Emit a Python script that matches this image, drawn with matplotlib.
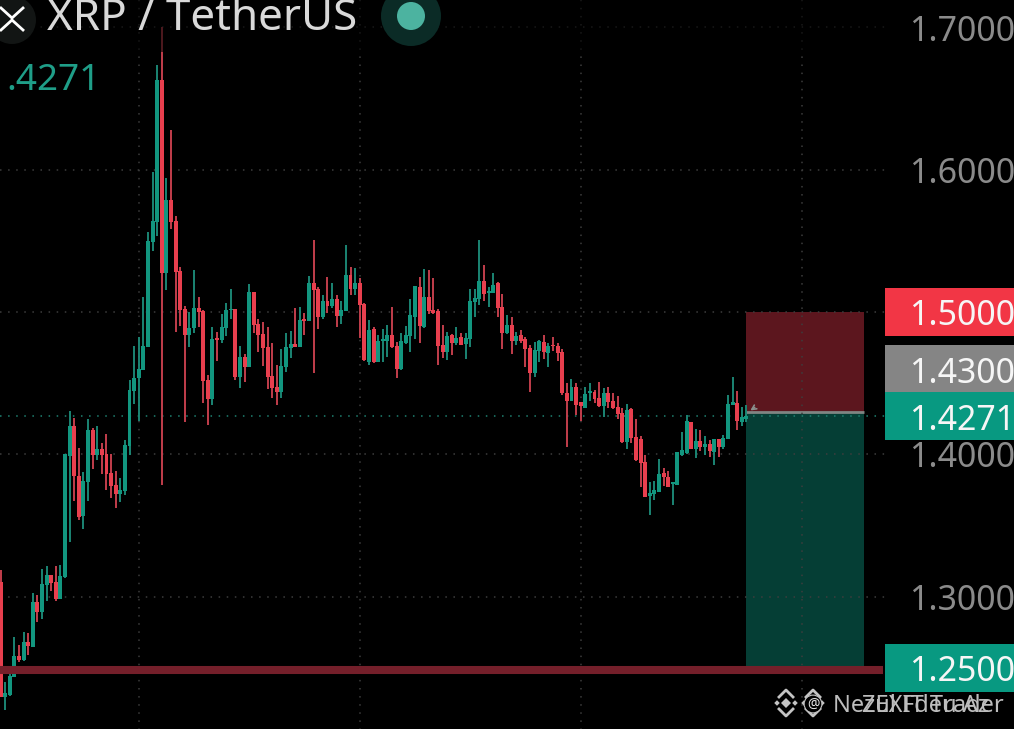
import matplotlib
matplotlib.use("Agg")
import matplotlib.pyplot as plt
import numpy as np
from matplotlib.patches import Circle, Rectangle

plt.rcParams["font.family"] = ["Noto Sans", "DejaVu Sans"]

highs = [
    1.3188, 1.2401, 1.2471, 1.2717, 1.2661, 1.2752, 1.2745, 1.3026, 1.3012, 1.3195,
    1.3216, 1.3153, 1.3216, 1.3223, 1.4003, 1.4305, 1.4256, 1.4045, 1.3876, 1.4249,
    1.4185, 1.4199, 1.4080, 1.4143, 1.4003, 1.3883, 1.3834, 1.4101, 1.4523, 1.4761,
    1.4825, 1.5106, 1.5563, 1.5984, 1.6736, 1.7003, 1.5942, 1.6279, 1.5675, 1.5317,
    1.5043, 1.5001, 1.5296, 1.5106, 1.5015, 1.4558, 1.4895, 1.4860, 1.4987, 1.5064,
    1.5162, 1.5022, 1.4761, 1.4705, 1.5197, 1.5141, 1.4951, 1.4930, 1.4895, 1.4783,
    1.4628, 1.4740, 1.4853, 1.4867, 1.5029, 1.5036, 1.4994, 1.5254, 1.5507, 1.5176,
    1.5120, 1.5247, 1.5204, 1.5120, 1.5078, 1.5471, 1.5317, 1.5310, 1.5240, 1.5064,
    1.4944, 1.4895, 1.4839, 1.4881, 1.4909, 1.5036, 1.4790, 1.4853, 1.4902, 1.5092,
    1.5183, 1.5247, 1.5303, 1.5296, 1.5240, 1.5022, 1.4909, 1.4860, 1.4846, 1.4895,
    1.4853, 1.4853, 1.5162, 1.5162, 1.5507, 1.5331, 1.5176, 1.5275, 1.5211, 1.5127,
    1.4979, 1.4965, 1.4860, 1.4874, 1.4825, 1.4769, 1.4790, 1.4804, 1.4839, 1.4783,
    1.4825, 1.4783, 1.4740, 1.4502, 1.4530, 1.4502, 1.4368, 1.4473, 1.4502, 1.4453,
    1.4509, 1.4466, 1.4473, 1.4431, 1.4410, 1.4326, 1.4354, 1.4326, 1.4249, 1.4129,
    1.3996, 1.3806, 1.3813, 1.3968, 1.3904, 1.3883, 1.3806, 1.4017, 1.4157, 1.4277,
    1.4228, 1.4178, 1.4171, 1.4129, 1.4101, 1.4108, 1.4108, 1.4136, 1.4417, 1.4544,
    1.4446, 1.4333, 1.4347,
]
lows = [
    1.2295, 1.2204, 1.2302, 1.2436, 1.2541, 1.2548, 1.2591, 1.2647, 1.2822, 1.2844,
    1.2970, 1.3040, 1.2970, 1.2984, 1.3132, 1.3384, 1.3673, 1.3540, 1.3476, 1.3673,
    1.3897, 1.3961, 1.3862, 1.3750, 1.3694, 1.3624, 1.3666, 1.3715, 1.3996, 1.4354,
    1.4235, 1.4593, 1.4754, 1.5430, 1.5535, 1.3785, 1.5155, 1.5584, 1.4860, 1.4902,
    1.4227, 1.4754, 1.4853, 1.4895, 1.4361, 1.4206, 1.4347, 1.4656, 1.4783, 1.4832,
    1.4951, 1.4523, 1.4466, 1.4509, 1.4614, 1.4853, 1.4719, 1.4621, 1.4460, 1.4396,
    1.4347, 1.4396, 1.4579, 1.4677, 1.4754, 1.4754, 1.4839, 1.4937, 1.4572, 1.4881,
    1.4951, 1.4994, 1.5029, 1.4895, 1.4916, 1.5008, 1.5120, 1.5120, 1.4818, 1.4656,
    1.4628, 1.4642, 1.4649, 1.4649, 1.4684, 1.4747, 1.4537, 1.4593, 1.4776, 1.4719,
    1.4811, 1.4783, 1.4888, 1.4987, 1.4987, 1.4628, 1.4677, 1.4663, 1.4698, 1.4769,
    1.4769, 1.4670, 1.4754, 1.4965, 1.5050, 1.5078, 1.5036, 1.5134, 1.4965, 1.4740,
    1.4846, 1.4705, 1.4769, 1.4783, 1.4614, 1.4439, 1.4544, 1.4649, 1.4670, 1.4614,
    1.4726, 1.4656, 1.4417, 1.4052, 1.4375, 1.4277, 1.4235, 1.4326, 1.4375, 1.4361,
    1.4333, 1.4263, 1.4326, 1.4319, 1.4249, 1.4080, 1.4038, 1.4080, 1.3954, 1.3771,
    1.3701, 1.3575, 1.3680, 1.3736, 1.3778, 1.3771, 1.3645, 1.3785, 1.3989, 1.4003,
    1.4038, 1.3975, 1.4024, 1.3996, 1.3982, 1.3925, 1.3982, 1.4038, 1.4108, 1.4347,
    1.4171, 1.4199, 1.4228,
]
opens = [
    1.3104, 1.2295, 1.2309, 1.2436, 1.2584, 1.2555, 1.2682, 1.2647, 1.2963, 1.2893,
    1.3082, 1.3153, 1.3103, 1.2984, 1.3139, 1.3989, 1.4199, 1.3848, 1.3568, 1.3806,
    1.4171, 1.3996, 1.4038, 1.4003, 1.3869, 1.3785, 1.3722, 1.3743, 1.4059, 1.4446,
    1.4537, 1.4593, 1.4754, 1.5493, 1.5633, 1.6631, 1.5275, 1.5788, 1.5640, 1.5289,
    1.5022, 1.4839, 1.4888, 1.5029, 1.5008, 1.4523, 1.4389, 1.4818, 1.4804, 1.4888,
    1.5015, 1.5022, 1.4544, 1.4684, 1.4614, 1.5141, 1.4916, 1.4846, 1.4754, 1.4551,
    1.4473, 1.4439, 1.4614, 1.4747, 1.4776, 1.4754, 1.4951, 1.4937, 1.5204, 1.5162,
    1.4965, 1.5078, 1.5043, 1.5092, 1.4973, 1.5008, 1.5261, 1.5162, 1.5204, 1.5057,
    1.4649, 1.4881, 1.4649, 1.4797, 1.4797, 1.4839, 1.4761, 1.4600, 1.4783, 1.4832,
    1.4965, 1.5176, 1.4895, 1.5106, 1.5015, 1.5008, 1.4769, 1.4719, 1.4839, 1.4783,
    1.4825, 1.4776, 1.4811, 1.5071, 1.5092, 1.5218, 1.5134, 1.5134, 1.5204, 1.5036,
    1.4853, 1.4909, 1.4797, 1.4839, 1.4811, 1.4747, 1.4572, 1.4726, 1.4790, 1.4712,
    1.4769, 1.4761, 1.4719, 1.4431, 1.4375, 1.4473, 1.4368, 1.4326, 1.4431, 1.4439,
    1.4396, 1.4340, 1.4431, 1.4375, 1.4333, 1.4291, 1.4087, 1.4319, 1.4122, 1.4108,
    1.3947, 1.3708, 1.3722, 1.3736, 1.3869, 1.3841, 1.3792, 1.3785, 1.3996, 1.4010,
    1.4228, 1.4038, 1.4094, 1.4052, 1.4073, 1.4017, 1.4108, 1.4052, 1.4108, 1.4347,
    1.4361, 1.4228, 1.4249,
]
closes = [
    1.2295, 1.2324, 1.2443, 1.2584, 1.2555, 1.2682, 1.2654, 1.2963, 1.2893, 1.3089,
    1.3153, 1.3096, 1.2984, 1.3146, 1.4003, 1.4199, 1.3848, 1.3561, 1.3813, 1.4171,
    1.3996, 1.4038, 1.3996, 1.3862, 1.3778, 1.3722, 1.3750, 1.4066, 1.4453, 1.4537,
    1.4600, 1.4761, 1.5500, 1.5640, 1.6631, 1.5275, 1.5788, 1.5633, 1.5282, 1.5015,
    1.4839, 1.4888, 1.5029, 1.5001, 1.4516, 1.4389, 1.4811, 1.4804, 1.4895, 1.5015,
    1.5022, 1.4544, 1.4684, 1.4614, 1.5141, 1.4909, 1.4839, 1.4747, 1.4544, 1.4466,
    1.4439, 1.4621, 1.4754, 1.4776, 1.4754, 1.4944, 1.4937, 1.5204, 1.5155, 1.4965,
    1.5078, 1.5043, 1.5092, 1.4973, 1.5015, 1.5261, 1.5162, 1.5204, 1.5050, 1.4663,
    1.4874, 1.4649, 1.4797, 1.4811, 1.4839, 1.4754, 1.4600, 1.4797, 1.4839, 1.4980,
    1.5183, 1.4902, 1.5106, 1.5008, 1.4994, 1.4761, 1.4719, 1.4832, 1.4783, 1.4818,
    1.4769, 1.4818, 1.5078, 1.5099, 1.5218, 1.5127, 1.5148, 1.5190, 1.5029, 1.4853,
    1.4909, 1.4797, 1.4832, 1.4797, 1.4740, 1.4572, 1.4733, 1.4797, 1.4719, 1.4761,
    1.4761, 1.4712, 1.4431, 1.4375, 1.4473, 1.4347, 1.4340, 1.4424, 1.4446, 1.4389,
    1.4340, 1.4431, 1.4368, 1.4326, 1.4284, 1.4087, 1.4312, 1.4115, 1.3961, 1.3940,
    1.3701, 1.3729, 1.3750, 1.3862, 1.3841, 1.3771, 1.3806, 1.4017, 1.4031, 1.4235,
    1.4038, 1.4094, 1.4052, 1.4073, 1.4024, 1.4108, 1.4052, 1.4115, 1.4354, 1.4368,
    1.4235, 1.4263, 1.4271,
]

grid_prices = [1.7, 1.6, 1.5, 1.4, 1.3]
grid_candles = [30, 78, 126, 174]
scale_labels = ["1.7000", "1.6000", "1.4000", "1.3000", "1.2000"]
scale_prices = [1.7, 1.6, 1.4, 1.3, 1.2]
last_price = 1.4271
stop_price = 1.5
entry_price = 1.43
target_price = 1.25
level_price = 1.2483

GREEN = "#12967f"
RED = "#e83f4e"
TAG_GREEN = "#089981"
TAG_RED = "#f23645"
W, H = 1014, 729
X0, X_STEP = 0.6, 4.604
LABEL_SIZE = 24.4


def idx(px):
    # screen x to candle number, the chart is laid out by candle spacing
    return (px - X0) / X_STEP


fig = plt.figure(figsize=(W / 100, H / 100), dpi=100, facecolor="black")
ax = fig.add_axes([0, 0, 1, 1], facecolor="black")
ax.set_xlim(idx(0), idx(W))
ax.set_ylim(1.5 - (H - 312) / 1423, 1.5 + 312 / 1423)
ax.axis("off")

dots = (0, (1, 4.3))

# position tool
ax.add_patch(Rectangle((idx(746), entry_price), idx(864) - idx(746), stop_price - entry_price,
                       fc="#5c161e", ec="none", zorder=1))
ax.add_patch(Rectangle((idx(746), target_price), idx(864) - idx(746), entry_price - target_price,
                       fc="#053e35", ec="none", zorder=1))
ax.hlines(entry_price, idx(746), idx(864), color="#7f8583", lw=2.0, zorder=2)

ax.hlines(grid_prices, idx(0), idx(885), color="#3d3d3d", lw=1.1, linestyles=dots, zorder=2)
ax.vlines(grid_candles, 1.2, 1.73, color="#3d3d3d", lw=1.1, linestyles=dots, zorder=2)
ax.hlines(last_price, idx(0), idx(885), color="#1f8272", lw=1.1, linestyles=dots, zorder=2)

o = np.array(opens)
c = np.array(closes)
x = np.arange(len(o))
colors = [GREEN if b >= a else RED for a, b in zip(o, c)]
wick_colors = ["#1c8a78" if b >= a else "#c9404e" for a, b in zip(o, c)]

ax.vlines(x, lows, highs, colors=wick_colors, lw=1.35, zorder=3)
ax.bar(x, np.abs(c - o), bottom=np.minimum(o, c), width=0.86, color=colors, lw=0, zorder=4)

ax.hlines(level_price, idx(0), idx(883), color="#741f2a", lw=5.8, zorder=5)

# price scale
for label, price in zip(scale_labels, scale_prices):
    ax.annotate(label, (idx(909), price), xytext=(0, -3), textcoords="offset points",
                color="#8b8b8b", fontsize=LABEL_SIZE, va="center", zorder=7)

# pixel overlay for the header, tags and watermark
ui = fig.add_axes([0, 0, 1, 1], facecolor="none")
ui.set_xlim(0, W)
ui.set_ylim(H, 0)
ui.axis("off")

ui.add_patch(Rectangle((0, 0), 885, 52, fc="black", alpha=0.6, ec="none"))

tags = [
    ("1.5000", 288, 336, TAG_RED, 316),
    ("1.4300", 345, 392, "#858585", 374),
    ("1.4271", 392, 440, TAG_GREEN, 421),
    ("1.2500", 644, 692, TAG_GREEN, 672),
]
for label, top, bottom, color, mid in tags:
    ui.add_patch(Rectangle((885, top), W - 885, bottom - top, fc=color, ec="none"))
    ui.text(909, mid, label, color="#f6f6f6", fontsize=LABEL_SIZE, va="center")

ui.annotate("", xy=(748, 412), xytext=(757, 406),
            arrowprops=dict(arrowstyle="->", color="#8a8f8d", lw=1.2, mutation_scale=8))

ui.add_patch(Circle((12, 20), 24, fc="#121514", ec="none"))
ui.plot([1, 12, 23], [8, 18, 8], color="white", lw=2)
ui.plot([1, 12, 23], [30, 20, 30], color="white", lw=2)
ui.text(47, 30, "XRP / TetherUS", color="#d9d9d9", fontsize=31.6, va="baseline")
ui.text(6, 90, ".4271", color="#1f9e88", fontsize=26.6, va="baseline")

ui.add_patch(Circle((411, 16), 30, fc="#0b2b26", ec="none"))
ui.add_patch(Circle((411, 16), 14, fc="#4cb3a0", ec="none"))

# watermark, two handles printed over each other
for cx in (786, 813):
    ui.scatter([cx, cx - 9, cx + 9], [703, 703, 703], marker="D", s=[26, 8, 8], color="#c4c4c4", lw=0)
    ui.plot([cx - 7, cx, cx + 7], [697, 690, 697], color="#c4c4c4", lw=2)
    ui.plot([cx - 7, cx, cx + 7], [709, 716, 709], color="#c4c4c4", lw=2)
ui.text(813, 704, "@", color="#e0e0e0", fontsize=10, ha="center", va="center",
        bbox=dict(boxstyle="circle,pad=0.1", fc="black", ec="#c4c4c4", lw=0.8))
ui.text(833, 712, "Nezul Fdeu Az", color="#bdbdbd", fontsize=17, va="baseline")
ui.text(1004, 712, "ZEXIT Trader", color="#bdbdbd", fontsize=17, ha="right", va="baseline")

fig.savefig("out.png", dpi=100, facecolor="black")
plt.close(fig)
